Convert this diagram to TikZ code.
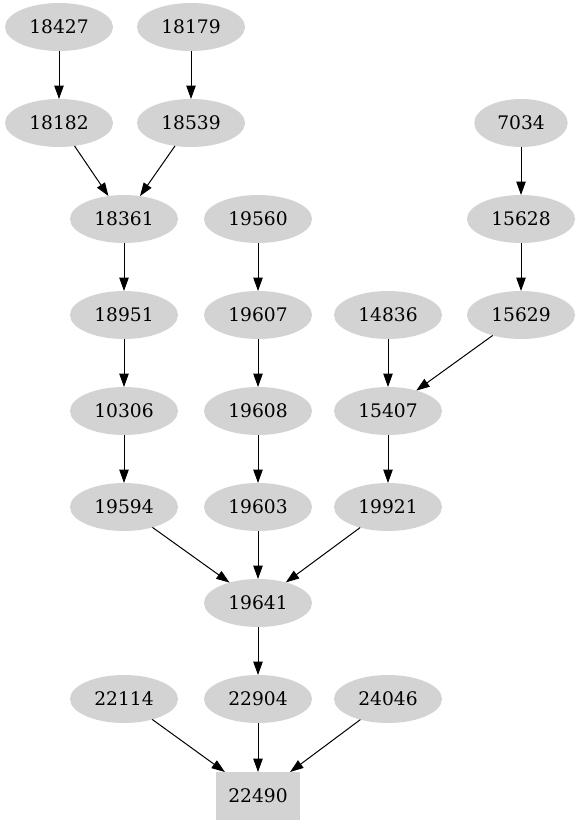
\documentclass[tikz,border=0pt]{standalone}
\usepackage{fontspec}
\setmainfont{DejaVu Serif}
\usetikzlibrary{shapes.geometric,arrows.meta}
\tikzset{
  enode/.style={ellipse, fill={rgb,255:red,211;green,211;blue,211}, draw=none, minimum width=81pt, minimum height=36pt, inner sep=0pt, outer sep=0pt, font=\fontsize{14pt}{16pt}\selectfont},
  snode/.style={enode, minimum width=70pt},
  bnode/.style={rectangle, fill={rgb,255:red,211;green,211;blue,211}, draw=none, minimum width=63pt, minimum height=36pt, inner sep=0pt, outer sep=0pt, font=\fontsize{14pt}{16pt}\selectfont},
  edge/.style={draw=black, line width=0.75pt, -{Triangle[length=10pt,width=7pt]}}
}
\begin{document}
\begin{tikzpicture}[x=0.75pt,y=-0.75pt]
\useasboundingbox (0,0) rectangle (579,827);
\node[enode] (n18427) at (59,27) {18427};
\node[enode] (n18179) at (191,27) {18179};
\node[enode] (n18182) at (59,123) {18182};
\node[enode] (n18539) at (191,123) {18539};
\node[snode] (n7034) at (521,123) {7034};
\node[enode] (n18361) at (124,219) {18361};
\node[enode] (n19560) at (258,219) {19560};
\node[enode] (n15628) at (521,219) {15628};
\node[enode] (n18951) at (124,315) {18951};
\node[enode] (n19607) at (258,315) {19607};
\node[enode] (n14836) at (388,315) {14836};
\node[enode] (n15629) at (521,315) {15629};
\node[enode] (n10306) at (124,411) {10306};
\node[enode] (n19608) at (258,411) {19608};
\node[enode] (n15407) at (388,411) {15407};
\node[enode] (n19594) at (124,507) {19594};
\node[enode] (n19603) at (258,507) {19603};
\node[enode] (n19921) at (388,507) {19921};
\node[enode] (n19641) at (258,603) {19641};
\node[enode] (n22114) at (124,699) {22114};
\node[enode] (n22904) at (258,699) {22904};
\node[enode] (n24046) at (388,699) {24046};
\node[bnode] (n22490) at (258,796) {22490};
\draw[edge] (n18427) -- (n18182);
\draw[edge] (n18179) -- (n18539);
\draw[edge] (n18182) -- (n18361);
\draw[edge] (n18539) -- (n18361);
\draw[edge] (n7034) -- (n15628);
\draw[edge] (n15628) -- (n15629);
\draw[edge] (n18361) -- (n18951);
\draw[edge] (n19560) -- (n19607);
\draw[edge] (n18951) -- (n10306);
\draw[edge] (n19607) -- (n19608);
\draw[edge] (n14836) -- (n15407);
\draw[edge] (n15629) -- (n15407);
\draw[edge] (n10306) -- (n19594);
\draw[edge] (n19608) -- (n19603);
\draw[edge] (n15407) -- (n19921);
\draw[edge] (n19594) -- (n19641);
\draw[edge] (n19603) -- (n19641);
\draw[edge] (n19921) -- (n19641);
\draw[edge] (n19641) -- (n22904);
\draw[edge] (n22114) -- (n22490);
\draw[edge] (n22904) -- (n22490);
\draw[edge] (n24046) -- (n22490);
\end{tikzpicture}
\end{document}
